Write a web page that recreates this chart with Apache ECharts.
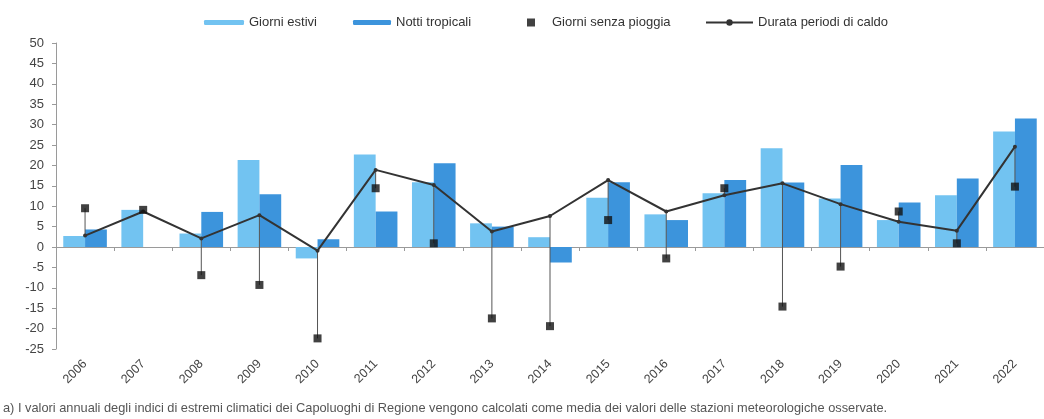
<!DOCTYPE html>
<html>
<head>
<meta charset="utf-8">
<script src="https://cdn.jsdelivr.net/npm/echarts@6/dist/echarts.min.js"></script>
<style>
  html, body { margin: 0; padding: 0; background: #fff; }
  #chart { width: 1044px; height: 419px; }
</style>
</head>
<body>
<div id="chart"></div>
<script>
// Anni
const years = ['2006', '2007', '2008', '2009', '2010', '2011', '2012', '2013', '2014',
               '2015', '2016', '2017', '2018', '2019', '2020', '2021', '2022'];

// Giorni estivi
const giorniEstivi = [2.7, 9.1, 3.3, 21.3, -2.8, 22.7, 15.9, 5.8, 2.4,
                      12.1, 8.0, 13.2, 24.2, 11.9, 6.6, 12.7, 28.3];

// Notti tropicali
const nottiTropicali = [4.3, 0, 8.6, 12.9, 1.9, 8.7, 20.5, 5.0, -3.8,
                        15.9, 6.6, 16.4, 15.8, 20.1, 10.9, 16.8, 31.5];

// Giorni senza pioggia
const giorniSenzaPioggia = [9.5, 9.1, -6.9, -9.3, -22.4, 14.4, 0.9, -17.5, -19.4,
                            6.6, -2.8, 14.4, -14.6, -4.8, 8.7, 0.9, 14.8];

// Durata periodi di caldo
const durataCaldo = [2.8, 8.7, 2.1, 7.8, -0.9, 18.9, 15.2, 3.8, 7.6,
                     16.4, 8.7, 12.7, 15.6, 10.5, 6.2, 4.0, 24.6];

const note = 'a) I valori annuali degli indici di estremi climatici dei Capoluoghi di Regione vengono calcolati come media dei valori delle stazioni meteorologiche osservate.';

// Linee verticali tra "Durata periodi di caldo" e "Giorni senza pioggia" per ogni anno
const hiLo = years.map((y, i) => [i,
  Math.min(durataCaldo[i], giorniSenzaPioggia[i]),
  Math.max(durataCaldo[i], giorniSenzaPioggia[i])]);

const FONT = "'Liberation Sans', Arial, sans-serif";
const TXT = '#444';

const chart = echarts.init(document.getElementById('chart'), null, { renderer: 'canvas' });

const legendBase = {
  top: 11,
  textStyle: { fontFamily: FONT, fontSize: 13, color: '#333' },
  selectedMode: false
};

chart.setOption({
  animation: false,
  backgroundColor: '#fff',
  legend: [
    Object.assign({}, legendBase, { left: 199, data: ['Giorni estivi'], itemWidth: 40, itemHeight: 5, icon: 'roundRect' }),
    Object.assign({}, legendBase, { left: 348, data: ['Notti tropicali'], itemWidth: 38, itemHeight: 5, icon: 'roundRect' }),
    Object.assign({}, legendBase, { left: 522, data: ['Giorni senza pioggia'], itemWidth: 8, itemHeight: 8, icon: 'rect',
      textStyle: { fontFamily: FONT, fontSize: 13, color: '#333', padding: [0, 0, 0, 12] } }),
    Object.assign({}, legendBase, { left: 700, data: ['Durata periodi di caldo'], itemWidth: 47, itemHeight: 8 })
  ],
  graphic: [{
    type: 'text',
    left: 3,
    top: 402,
    style: { text: note, fontFamily: FONT, fontSize: 12.8, fill: '#555' }
  }],
  grid: { left: 56, right: -10, top: 43, bottom: 70, containLabel: false },
  xAxis: [{
    type: 'category',
    data: years,
    axisLine: { onZero: true, lineStyle: { color: '#9a9a9a', width: 1 } },
    axisTick: { show: true, length: 4, lineStyle: { color: '#9a9a9a' } },
    axisLabel: { show: false },
    splitLine: { show: false }
  }, {
    type: 'category',
    data: years,
    position: 'bottom',
    axisLine: { show: false, onZero: false },
    axisTick: { show: false },
    axisLabel: { rotate: 45, margin: 13, fontFamily: FONT, fontSize: 12.5, color: TXT },
    splitLine: { show: false }
  }],
  yAxis: {
    type: 'value',
    min: -25,
    max: 50,
    interval: 5,
    axisLine: { show: true, lineStyle: { color: '#9a9a9a' } },
    axisTick: { show: true, length: 4, lineStyle: { color: '#9a9a9a' } },
    axisLabel: { margin: 12, fontFamily: FONT, fontSize: 13, color: TXT },
    splitLine: { show: false }
  },
  series: [{
    name: 'Giorni estivi',
    type: 'bar',
    data: giorniEstivi,
    barGap: '0%',
    barCategoryGap: '25%',
    itemStyle: { color: '#72c3f1' }
  }, {
    name: 'Notti tropicali',
    type: 'bar',
    data: nottiTropicali,
    itemStyle: { color: '#3c94dc' }
  }, {
    name: 'hilo',
    type: 'custom',
    data: hiLo,
    z: 3,
    silent: true,
    renderItem: function (params, api) {
      const a = api.coord([api.value(0), api.value(1)]);
      const b = api.coord([api.value(0), api.value(2)]);
      return {
        type: 'line',
        shape: { x1: a[0], y1: a[1], x2: b[0], y2: b[1] },
        style: { stroke: '#555', lineWidth: 1 }
      };
    }
  }, {
    name: 'Durata periodi di caldo',
    type: 'line',
    data: durataCaldo,
    z: 4,
    symbol: 'circle',
    symbolSize: 4,
    lineStyle: { color: '#333', width: 2 },
    itemStyle: { color: '#333' }
  }, {
    name: 'Giorni senza pioggia',
    type: 'scatter',
    data: giorniSenzaPioggia,
    z: 5,
    symbol: 'rect',
    symbolSize: 8,
    itemStyle: { color: '#111' }
  }]
});
</script>
</body>
</html>
